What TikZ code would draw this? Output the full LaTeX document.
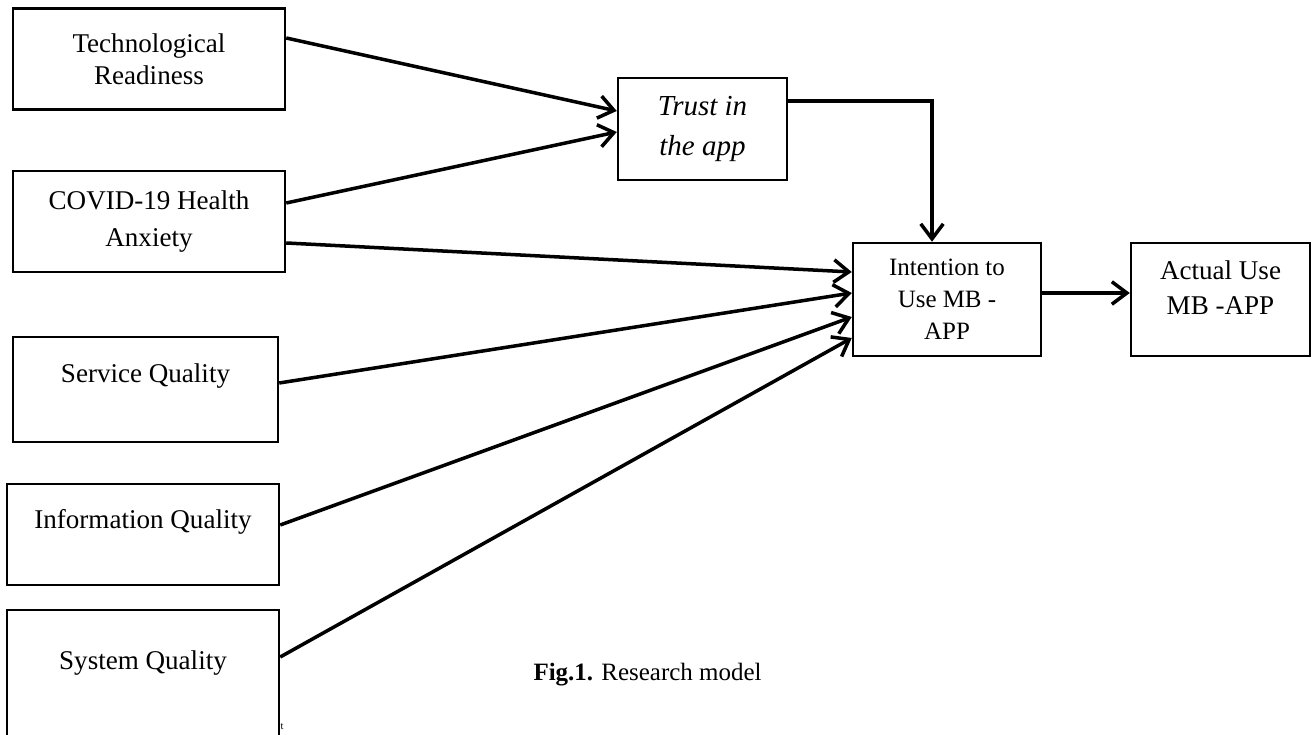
\documentclass[tikz,border=0pt]{standalone}
\usepackage{fontspec}
\setmainfont{Liberation Serif}
\usetikzlibrary{arrows.meta, positioning}
\tikzset{
    factor/.style = {
        draw, rectangle, line width=1.4pt, align=center, inner sep=0pt,
        minimum width=5.44cm, minimum height=2.02cm,
        font=\fontsize{15.4}{18.2}\selectfont
    },
    construct/.style = {
        factor, minimum width=3.76cm, minimum height=2.26cm
    }
}

\begin{document}
\begin{tikzpicture}
        \useasboundingbox (0, 0) rectangle (26.24, 14.7);
        % Place the antecedents on the left
        \node [factor] (tr) at (2.98, 13.52) {Technological\\Readiness};
        \node [factor, font=\fontsize{15.4}{21}\selectfont] (covid) at (2.98, 10.27) {COVID-19 Health\\Anxiety};
        \node [factor, minimum width=5.30cm, minimum height=2.10cm] (sq) at (2.91, 6.91) {Service Quality\\ \mbox{}};
        \node [factor] (iq) at (2.86, 4.01) {Information Quality\\ \mbox{}};
        \node [factor, minimum height=2.70cm, font=\fontsize{15.4}{20}\selectfont] (sys) at (2.86, 1.15) {System Quality\\ \mbox{}};
        \node [font=\fontsize{6}{6}\selectfont, inner sep=0pt] (tick) at (5.64, 0.17) {t};

        % Mediator and outcomes
        \node [construct, minimum width=3.38cm, minimum height=2.04cm, font=\fontsize{16.5}{22.8}\itshape] (trust) at (14.05, 12.12) {Trust in\\the app};
        \node [construct, font=\fontsize{14.2}{18.2}\selectfont] (intent) at (18.94, 8.71) {Intention to\\Use MB -\\APP};
        \node [construct, minimum width=3.58cm, font=\fontsize{15.4}{20}\selectfont] (actual) at (24.41, 8.71) {Actual Use\\MB -APP\\[-6pt] \mbox{}};

        \begin{scope}[line width=2pt, ->, >={Straight Barb[length=0.3cm, width=0.45cm]}]
            \draw ([yshift=0.42cm] tr.east) -- ([yshift=0.36cm] trust.west);
            \draw ([yshift=0.37cm] covid.east) -- ([yshift=-0.06cm] trust.west);
            \draw ([yshift=-0.43cm] covid.east) -- ([yshift=0.55cm] intent.west);
            \draw ([yshift=0.13cm] sq.east) -- ([yshift=0.13cm] intent.west);
            \draw ([yshift=0.19cm] iq.east) -- ([yshift=-0.35cm] intent.west);
            \draw ([yshift=0.41cm] sys.east) -- ([yshift=-0.77cm] intent.west);
            \draw ([yshift=0.56cm] trust.east) -| ([xshift=-0.3cm] intent.north);
            \draw ([yshift=0.13cm] intent.east) -- ([yshift=0.13cm] actual.west);
        \end{scope}

        \node [font=\fontsize{14.2}{17}\selectfont] (caption) at (12.95, 1.2) {\textbf{Fig.1.} Research model};
    \end{tikzpicture}
\end{document}
